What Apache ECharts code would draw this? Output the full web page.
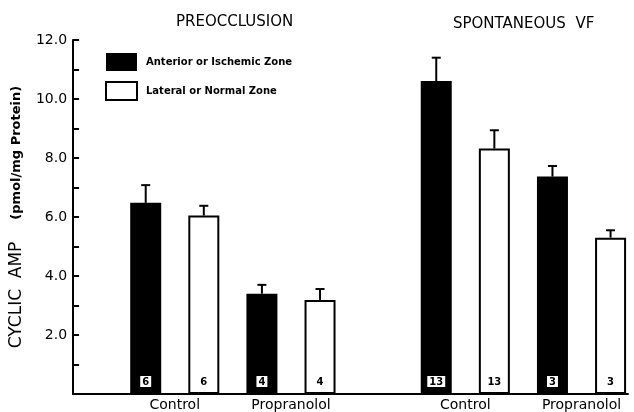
<!DOCTYPE html>
<html>
<head>
<meta charset="utf-8">
<script src="https://cdn.jsdelivr.net/npm/echarts@6/dist/echarts.min.js"></script>
<style>
  html,body{margin:0;padding:0;background:#fff;}
  #main{width:634px;height:412px;}
</style>
</head>
<body>
<div id="main"></div>
<script>
// cyclic AMP (pmol/mg protein)
const groups = ['Control', 'Propranolol', 'Control', 'Propranolol'];
const panels = ['PREOCCLUSION', 'SPONTANEOUS  VF'];
const anterior = [6.48, 3.40, 10.61, 7.37];
const anteriorTop = [7.08, 3.70, 11.40, 7.73];
const lateral = [6.05, 3.19, 8.32, 5.30];
const lateralTop = [6.38, 3.56, 8.94, 5.55];
const nAnterior = [6, 4, 13, 3];
const nLateral = [6, 4, 13, 3];
const yTicks = [2, 4, 6, 8, 10, 12];

const FONT = 'DejaVu Sans';
const chart = echarts.init(document.getElementById('main'), null, {renderer: 'canvas'});

// slot of each group's first bar; one empty slot between the two panels
function slot(g) { return g * 2 + (g >= 2 ? 1 : 0); }

const antData = anterior.map((v, i) => ({value: [slot(i), v], n: nAnterior[i]}));
const latData = lateral.map((v, i) => ({value: [slot(i) + 1, v], n: nLateral[i]}));
const errData = anterior.map((v, i) => [slot(i), v, anteriorTop[i]])
  .concat(lateral.map((v, i) => [slot(i) + 1, v, lateralTop[i]]));

function errorBar(params, api) {
  const lo = api.coord([api.value(0), api.value(1)]);
  const hi = api.coord([api.value(0), api.value(2)]);
  const style = {stroke: '#000', lineWidth: 2};
  return {
    type: 'group',
    children: [
      {type: 'line', shape: {x1: lo[0], y1: lo[1], x2: hi[0], y2: hi[1]}, style: style},
      {type: 'line', shape: {x1: hi[0] - 4.5, y1: hi[1], x2: hi[0] + 4.5, y2: hi[1]}, style: style}
    ]
  };
}

const option = {
  animation: false,
  textStyle: {fontFamily: FONT, color: '#000'},
  title: [
    {text: panels[0], left: 171, top: 10, textStyle: {fontFamily: FONT, fontSize: 15, fontWeight: 'normal', color: '#000'}},
    {text: panels[1], left: 448, top: 12, textStyle: {fontFamily: FONT, fontSize: 15, fontWeight: 'normal', color: '#000'}}
  ],
  legend: {
    orient: 'vertical',
    left: 100,
    top: 48,
    itemWidth: 31,
    itemHeight: 18,
    itemGap: 10,
    icon: 'rect',
    data: ['Anterior or Ischemic Zone', 'Lateral or Normal Zone'],
    textStyle: {fontFamily: FONT, fontSize: 10, fontWeight: 'bold', color: '#000', padding: [0, 0, 0, 4]}
  },
  grid: {left: 72, right: 6, top: 40, bottom: 15},
  xAxis: {
    type: 'value',
    min: -1.25,
    max: 8.3,
    interval: 0.25,
    splitLine: {show: false},
    axisTick: {show: false},
    axisLine: {show: true, onZero: false, lineStyle: {color: '#000', width: 2}},
    axisLabel: {
      margin: 4,
      fontFamily: FONT,
      fontSize: 14,
      color: '#000',
      showMaxLabel: false,
      formatter: function (v) {
        for (let g = 0; g < groups.length; g++) {
          if (Math.abs(slot(g) + 0.5 - v) < 1e-6) return groups[g];
        }
        return '';
      }
    }
  },
  yAxis: {
    type: 'value',
    min: 0,
    max: 12,
    interval: 1,
    splitLine: {show: false},
    axisLine: {show: true, onZero: false, lineStyle: {color: '#000', width: 2}},
    axisTick: {show: true, inside: true, length: 6, lineStyle: {color: '#000', width: 2}},
    axisLabel: {
      margin: 6,
      fontFamily: FONT,
      fontSize: 14,
      color: '#000',
      formatter: function (v) { return yTicks.indexOf(v) >= 0 ? v.toFixed(1) : ''; }
    },
    name: '{a|CYCLIC  AMP}{b|(pmol/mg Protein)}',
    nameLocation: 'middle',
    nameGap: 45,
    nameTextStyle: {
      rich: {
        a: {fontFamily: FONT, fontSize: 17, color: '#000', padding: [0, 22, 0, 0]},
        b: {fontFamily: FONT, fontSize: 13, fontWeight: 'bold', color: '#000'}
      }
    }
  },
  series: [
    {
      name: 'Anterior or Ischemic Zone',
      type: 'bar',
      barWidth: 31,
      barGap: '-100%',
      itemStyle: {color: '#000', borderColor: '#000', borderWidth: 0},
      label: {
        show: true,
        position: 'insideBottom',
        distance: 7,
        formatter: function (p) { return p.data.n; },
        backgroundColor: '#fff',
        padding: [1, 2, 0, 2],
        color: '#000',
        fontFamily: FONT,
        fontSize: 10,
        fontWeight: 'bold'
      },
      data: antData,
      z: 2
    },
    {
      name: 'Lateral or Normal Zone',
      type: 'bar',
      barWidth: 31,
      barGap: '-100%',
      itemStyle: {color: '#fff', borderColor: '#000', borderWidth: 2},
      label: {
        show: true,
        position: 'insideBottom',
        distance: 7,
        formatter: function (p) { return p.data.n; },
        color: '#000',
        fontFamily: FONT,
        fontSize: 10,
        fontWeight: 'bold'
      },
      data: latData,
      z: 2
    },
    {
      name: 'error',
      type: 'custom',
      renderItem: errorBar,
      encode: {x: 0, y: [1, 2]},
      data: errData,
      z: 1
    }
  ]
};

chart.setOption(option);
</script>
</body>
</html>
